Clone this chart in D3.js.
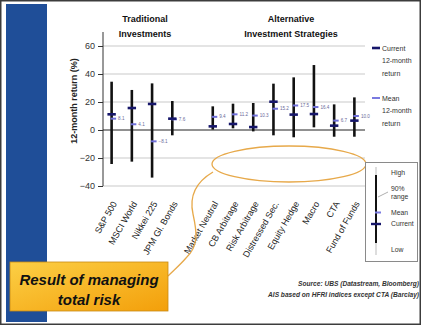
<!DOCTYPE html>
<html>
<head>
<meta charset="utf-8">
<script src="https://cdn.jsdelivr.net/npm/d3@7"></script>
<style>
  html, body { margin: 0; padding: 0; background: #fff; }
  svg { display: block; font-family: "Liberation Sans", Arial, sans-serif; }
</style>
</head>
<body>
<svg id="chart" width="421" height="325"></svg>
<script>
// Categories (an empty slot separates the two groups)
const traditional = ["S&P 500", "MSCI World", "Nikkei 225", "JPM Gl. Bonds"];
const alternative = ["Market Neutral", "CB Arbitrage", "Risk Arbitrage", "Distressed Sec.",
                     "Equity Hedge", "Macro", "CTA", "Fund of Funds"];
const categories = traditional.concat(alternative);

// 90% range (high / low), current and mean 12-month returns, in %
const high    = [34.5, 28.6, 33.3, 20.7, 16.9, 18.8, 19.3, 33.1, 37.6, 46.4, 18.3, 23.3];
const low     = [-24.3, -22.6, -34.0, -3.8, 0.3, 1.2, -1.0, -3.8, -5.2, 1.9, -4.8, -4.8];
const current = [11.2, 15.7, 18.6, 8.1, 2.6, 4.3, 2.1, 20.2, 11.0, 11.4, 3.1, 6.7];
const mean    = [8.1, 4.1, -8.1, 7.6, 9.4, 11.2, 10.3, 15.2, 17.5, 16.4, 6.7, 10.0];

const yTicks = [60, 40, 20, 0, -20, -40];

const rows = categories.map((c, i) => ({
  name: c, high: high[i], low: low[i], current: current[i], mean: mean[i]
}));

const svg = d3.select("#chart");
const font = "\"Liberation Sans\", Arial, sans-serif";

// Frame and the blue side band
svg.append("rect").attr("x", 0.75).attr("y", 0.75).attr("width", 419.5).attr("height", 323.5)
  .attr("fill", "#fff").attr("stroke", "#3c3c3c").attr("stroke-width", 1.5);
svg.append("rect").attr("x", 6).attr("y", 4).attr("width", 41).attr("height", 318)
  .attr("fill", "#1f4e98");

// Scales
const slots = traditional.concat(["__gap__"], alternative);
const x = d3.scaleBand().domain(slots).range([101.5, 364.5]);
const cx = d => x(d) + x.bandwidth() / 2;
const y = d3.scaleLinear().domain([-40, 60]).range([186, 46]);

// Grid lines
const plot = svg.append("g");
plot.selectAll("line.grid").data(yTicks.filter(t => t !== 0)).join("line")
  .attr("class", "grid")
  .attr("x1", 103).attr("x2", 365)
  .attr("y1", d => y(d)).attr("y2", d => y(d))
  .attr("stroke", "#c9c9c9").attr("stroke-width", 1);

// Y axis
const yAxis = d3.axisLeft(y).tickValues(yTicks).tickSize(5).tickPadding(3)
  .tickFormat(d3.format("d"));
const gy = svg.append("g").attr("transform", "translate(103,0)").call(yAxis);
gy.select(".domain").remove();
gy.append("line").attr("x1", 0).attr("x2", 0).attr("y1", 32).attr("y2", y(-40))
  .attr("stroke", "#333").attr("stroke-width", 1);
gy.selectAll(".tick line").attr("stroke", "#333");
gy.selectAll(".tick text").attr("font-size", 9).attr("fill", "#333")
  .attr("font-family", font);

// Zero line
svg.append("line").attr("x1", 103).attr("x2", 365).attr("y1", y(0)).attr("y2", y(0))
  .attr("stroke", "#222").attr("stroke-width", 1);

// Y axis title
svg.append("text")
  .attr("transform", `translate(77,${101}) rotate(-90)`)
  .attr("text-anchor", "middle")
  .attr("font-size", 9).attr("font-weight", "bold").attr("fill", "#222")
  .text("12-month return (%)");

// Group titles
const titles = [
  { lines: ["Traditional", "Investments"], cx: 145 },
  { lines: ["Alternative", "Investment Strategies"], cx: 291 }
];
titles.forEach(t => {
  t.lines.forEach((l, i) => {
    svg.append("text").attr("x", t.cx).attr("y", 22 + i * 15)
      .attr("text-anchor", "middle").attr("font-size", 9).attr("font-weight", "bold")
      .attr("fill", "#111").text(l);
  });
});

// Orange highlight ellipse
svg.append("ellipse").attr("cx", 289).attr("cy", 164).attr("rx", 77).attr("ry", 18)
  .attr("fill", "none").attr("stroke", "#e7a94a").attr("stroke-width", 1.3);

// Range bars
const marks = svg.append("g");
marks.selectAll("line.range").data(rows).join("line")
  .attr("class", "range")
  .attr("x1", d => cx(d.name)).attr("x2", d => cx(d.name))
  .attr("y1", d => y(d.high)).attr("y2", d => y(d.low))
  .attr("stroke", "#111").attr("stroke-width", 2.6);

// Mean ticks and their labels
marks.selectAll("line.mean").data(rows).join("line")
  .attr("class", "mean")
  .attr("x1", d => cx(d.name) - 1).attr("x2", d => cx(d.name) + 4.5)
  .attr("y1", d => y(d.mean)).attr("y2", d => y(d.mean))
  .attr("stroke", "#6f6fd8").attr("stroke-width", 2);
marks.selectAll("text.meanlab").data(rows).join("text")
  .attr("class", "meanlab")
  .attr("x", d => cx(d.name) + 6.5).attr("y", d => y(d.mean) + 1.6)
  .attr("font-size", 4.6).attr("fill", "#6a6a9a")
  .text(d => d3.format(".1f")(d.mean));

// Current ticks
marks.selectAll("line.current").data(rows).join("line")
  .attr("class", "current")
  .attr("x1", d => cx(d.name) - 4.2).attr("x2", d => cx(d.name) + 4.2)
  .attr("y1", d => y(d.current)).attr("y2", d => y(d.current))
  .attr("stroke", "#16166a").attr("stroke-width", 2.6);

// Category labels
svg.append("g").selectAll("text").data(categories).join("text")
  .attr("transform", d => `translate(${cx(d) + 3},202) rotate(-60)`)
  .attr("text-anchor", "end").attr("dy", "0.35em")
  .attr("font-size", 9).attr("fill", "#222")
  .text(d => d);

// Top-right legend
const legend = [
  { color: "#16166a", w: 2.6, y: 48, lines: ["Current", "12-month", "return"] },
  { color: "#7a7ae0", w: 2, y: 98, lines: ["Mean", "12-month", "return"] }
];
legend.forEach(l => {
  svg.append("line").attr("x1", 372).attr("x2", 380).attr("y1", l.y).attr("y2", l.y)
    .attr("stroke", l.color).attr("stroke-width", l.w);
  l.lines.forEach((t, i) => {
    svg.append("text").attr("x", 382).attr("y", l.y + 2.5 + i * 12.8)
      .attr("font-size", 7).attr("fill", "#333").text(t);
  });
});

// Key box explaining the marks
const key = svg.append("g");
key.append("rect").attr("x", 365.5).attr("y", 162.5).attr("width", 52).attr("height", 99)
  .attr("fill", "#fff").attr("stroke", "#8a8a8a").attr("stroke-width", 1);
key.append("line").attr("x1", 376).attr("x2", 376).attr("y1", 167).attr("y2", 255)
  .attr("stroke", "#bbb").attr("stroke-width", 1);
key.append("line").attr("x1", 376).attr("x2", 376).attr("y1", 175).attr("y2", 243)
  .attr("stroke", "#111").attr("stroke-width", 2);
key.append("line").attr("x1", 378).attr("x2", 388).attr("y1", 197).attr("y2", 192)
  .attr("stroke", "#999").attr("stroke-width", 0.8);
key.append("line").attr("x1", 375).attr("x2", 381).attr("y1", 212.5).attr("y2", 212.5)
  .attr("stroke", "#7a7ae0").attr("stroke-width", 2);
key.append("line").attr("x1", 371).attr("x2", 381).attr("y1", 224).attr("y2", 224)
  .attr("stroke", "#16166a").attr("stroke-width", 2.4);
const keyText = [["High", 175], ["90%", 191], ["range", 199], ["Mean", 214.5], ["Current", 226], ["Low", 252]];
keyText.forEach(([t, ty]) => {
  key.append("text").attr("x", 391).attr("y", ty).attr("font-size", 6.8)
    .attr("fill", "#333").text(t);
});

// Callout connector and box
svg.append("path")
  .attr("d", "M213,172 C196,182 189,196 193,214 C197,232 199,246 186,258 C180,265 174,270 168,276")
  .attr("fill", "none").attr("stroke", "#e7a94a").attr("stroke-width", 1.3);

const defs = svg.append("defs");
const grad = defs.append("linearGradient").attr("id", "calloutFill")
  .attr("x1", 0).attr("y1", 0).attr("x2", 1).attr("y2", 1);
grad.append("stop").attr("offset", 0).attr("stop-color", "#fccf45");
grad.append("stop").attr("offset", 1).attr("stop-color", "#f39f0a");

svg.append("rect").attr("x", 10).attr("y", 262).attr("width", 158).attr("height", 49)
  .attr("fill", "url(#calloutFill)").attr("stroke", "#c78a14").attr("stroke-width", 0.8);
["Result of managing", "total risk"].forEach((t, i) => {
  svg.append("text").attr("x", 89).attr("y", 285 + i * 20)
    .attr("text-anchor", "middle").attr("font-size", 15).attr("font-weight", "bold")
    .attr("font-style", "italic").attr("fill", "#111").text(t);
});

// Source note
["Source: UBS (Datastream, Bloomberg)", "AIS based on HFRI indices except CTA (Barclay)"].forEach((t, i) => {
  svg.append("text").attr("x", 419).attr("y", 286 + i * 11)
    .attr("text-anchor", "end").attr("font-size", 6.6).attr("font-style", "italic")
    .attr("font-weight", "bold").attr("fill", "#333").text(t);
});
</script>
</body>
</html>
